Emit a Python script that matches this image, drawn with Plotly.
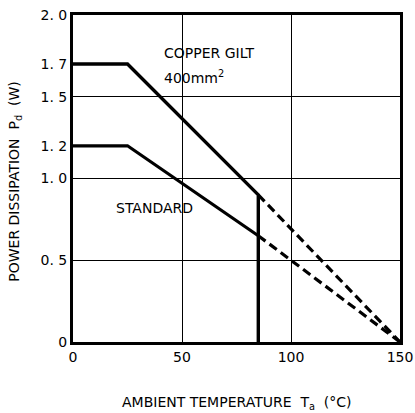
import plotly.graph_objects as go

# Data
copper_temp = [0, 25, 85, 85]
copper_pd = [1.7, 1.7, 0.9, 0.0]
standard_temp = [0, 25, 85]
standard_pd = [1.2, 1.2, 0.65]
copper_ext_temp = [85, 150]
copper_ext_pd = [0.9, 0.0]
standard_ext_temp = [85, 150]
standard_ext_pd = [0.65, 0.0]

x_ticks = [0, 50, 100, 150]
x_ticktext = ["0", "50", "100", "150"]
y_ticks = [0, 0.5, 1.0, 1.2, 1.5, 1.7, 2.0]
y_ticktext = ["0", "0. 5", "1. 0", "1. 2", "1. 5", "1. 7", "2. 0"]

FONT = "DejaVu Sans"

fig = go.Figure()
fig.add_trace(go.Scatter(x=copper_temp, y=copper_pd, mode="lines",
                         line=dict(color="black", width=3.4), showlegend=False))
fig.add_trace(go.Scatter(x=standard_temp, y=standard_pd, mode="lines",
                         line=dict(color="black", width=3.2), showlegend=False))
fig.add_trace(go.Scatter(x=copper_ext_temp, y=copper_ext_pd, mode="lines",
                         line=dict(color="black", width=3.2, dash="9px,5px"), showlegend=False))
fig.add_trace(go.Scatter(x=standard_ext_temp, y=standard_ext_pd, mode="lines",
                         line=dict(color="black", width=3.2, dash="9px,5px"), showlegend=False))

fig.add_annotation(x=41, y=1.77, text="COPPER GILT", showarrow=False,
                   xanchor="left", yanchor="middle",
                   font=dict(family=FONT, size=14, color="black"))
fig.add_annotation(x=41, y=1.62, text="400mm<sup>2</sup>", showarrow=False,
                   xanchor="left", yanchor="middle",
                   font=dict(family=FONT, size=14, color="black"))
fig.add_annotation(x=19, y=0.82, text="STANDARD", showarrow=False,
                   xanchor="left", yanchor="middle",
                   font=dict(family=FONT, size=14, color="black"))

# axis titles as paper annotations
fig.add_annotation(xref="paper", yref="paper", x=0.5, y=-61 / 327.0,
                   text="AMBIENT TEMPERATURE  T<sub>a</sub>  (°C)", showarrow=False,
                   xanchor="center", yanchor="middle",
                   font=dict(family=FONT, size=14, color="black"))
fig.add_annotation(xref="paper", yref="paper", x=-58 / 327.0, y=0.49,
                   text="POWER DISSIPATION  P<sub>d</sub>  (W)", showarrow=False,
                   textangle=-90, xanchor="center", yanchor="middle",
                   font=dict(family=FONT, size=14, color="black"))

fig.update_layout(
    width=415, height=413,
    margin=dict(l=73, r=15, t=15, b=71, autoexpand=False),
    paper_bgcolor="white", plot_bgcolor="white",
    font=dict(family=FONT, color="black"),
    xaxis=dict(
        range=[0, 150], tickvals=x_ticks, ticktext=x_ticktext,
        showgrid=True, gridcolor="black", gridwidth=1.2,
        showline=True, linecolor="black", linewidth=3, mirror=True,
        ticks="", zeroline=False, automargin=False,
        tickfont=dict(family=FONT, size=14, color="black"),
    ),
    yaxis=dict(
        range=[0, 2.0], tickvals=y_ticks, ticktext=y_ticktext,
        showgrid=False,
        minor=dict(tickmode="array", tickvals=[0.5, 1.0, 1.5], showgrid=True,
                   gridcolor="black", gridwidth=1.2, ticks=""),
        showline=True, linecolor="black", linewidth=3, mirror=True,
        ticks="", zeroline=False, automargin=False,
        tickfont=dict(family=FONT, size=14, color="black"),
    ),
)

fig.write_html("out.html", config={"displayModeBar": False},
               post_script="document.body.style.margin='0';document.body.style.overflow='hidden';")
